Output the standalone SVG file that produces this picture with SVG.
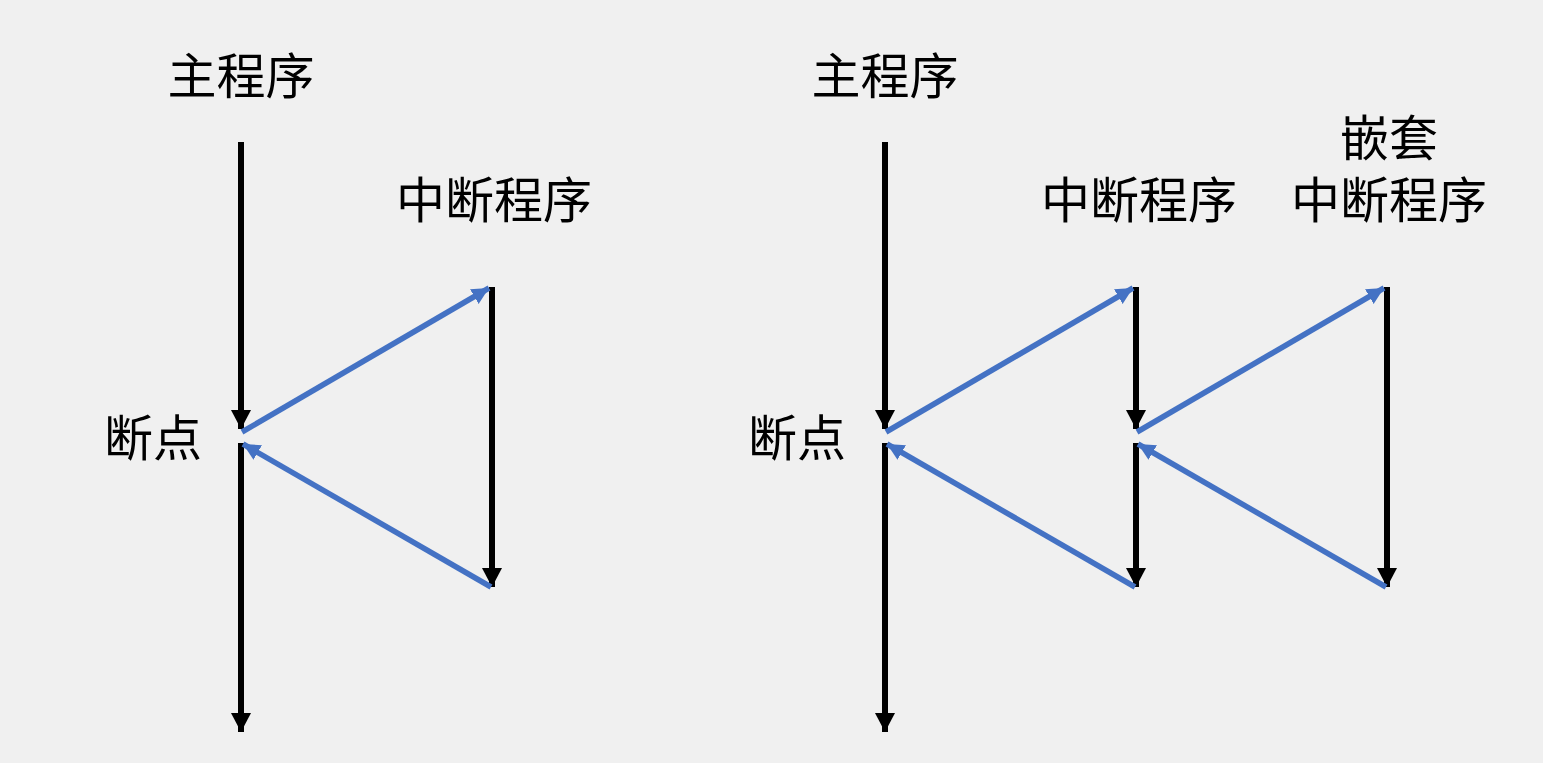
<svg xmlns="http://www.w3.org/2000/svg" width="1543" height="763" viewBox="0 0 1543 763">
<style>
.t{font-family:"Noto Sans CJK SC","Noto Sans CJK TC",sans-serif;font-size:49px;fill:#000;text-anchor:middle}
.k{stroke:#000;stroke-width:6;fill:none}
.b{stroke:#4472C4;stroke-width:5.5;fill:none}
</style>
<defs>
<marker id="ak" markerUnits="userSpaceOnUse" markerWidth="24" markerHeight="24" viewBox="0 0 24 24" refX="19" refY="12" orient="auto">
<path d="M0,2 L19,12 L0,22 Z" fill="#000"/>
</marker>
<marker id="ab" markerUnits="userSpaceOnUse" markerWidth="20" markerHeight="20" viewBox="0 0 20 20" refX="17" refY="10" orient="auto">
<path d="M0,1.5 L17,10 L0,18.5 Z" fill="#4472C4"/>
</marker>
</defs>
<rect width="1543" height="763" fill="#F0F0F0"/>
<g id="labels">
<text class="t" x="241" y="94">主程序</text>
<text class="t" x="494" y="218">中断程序</text>
<text class="t" x="153" y="456">断点</text>
<text class="t" x="885" y="94">主程序</text>
<text class="t" x="1139" y="218">中断程序</text>
<text class="t" x="1389" y="156">嵌套</text>
<text class="t" x="1389" y="218">中断程序</text>
<text class="t" x="797" y="456">断点</text>
</g>
<g id="connectors">
<line class="k" x1="241" y1="142" x2="241" y2="429" marker-end="url(#ak)"/>
<line class="k" x1="241" y1="443" x2="241" y2="732" marker-end="url(#ak)"/>
<line class="k" x1="492" y1="287" x2="492" y2="587" marker-end="url(#ak)"/>
<line class="b" x1="242" y1="432" x2="489" y2="288" marker-end="url(#ab)"/>
<line class="b" x1="491" y1="587" x2="243" y2="444" marker-end="url(#ab)"/>

<line class="k" x1="885" y1="142" x2="885" y2="429" marker-end="url(#ak)"/>
<line class="k" x1="885" y1="443" x2="885" y2="732" marker-end="url(#ak)"/>
<line class="k" x1="1136" y1="287" x2="1136" y2="429" marker-end="url(#ak)"/>
<line class="k" x1="1136" y1="443" x2="1136" y2="587" marker-end="url(#ak)"/>
<line class="k" x1="1387" y1="287" x2="1387" y2="587" marker-end="url(#ak)"/>
<line class="b" x1="886" y1="432" x2="1133" y2="288" marker-end="url(#ab)"/>
<line class="b" x1="1135" y1="587" x2="887" y2="444" marker-end="url(#ab)"/>
<line class="b" x1="1137" y1="432" x2="1384" y2="288" marker-end="url(#ab)"/>
<line class="b" x1="1386" y1="587" x2="1138" y2="444" marker-end="url(#ab)"/>
</g>
</svg>
